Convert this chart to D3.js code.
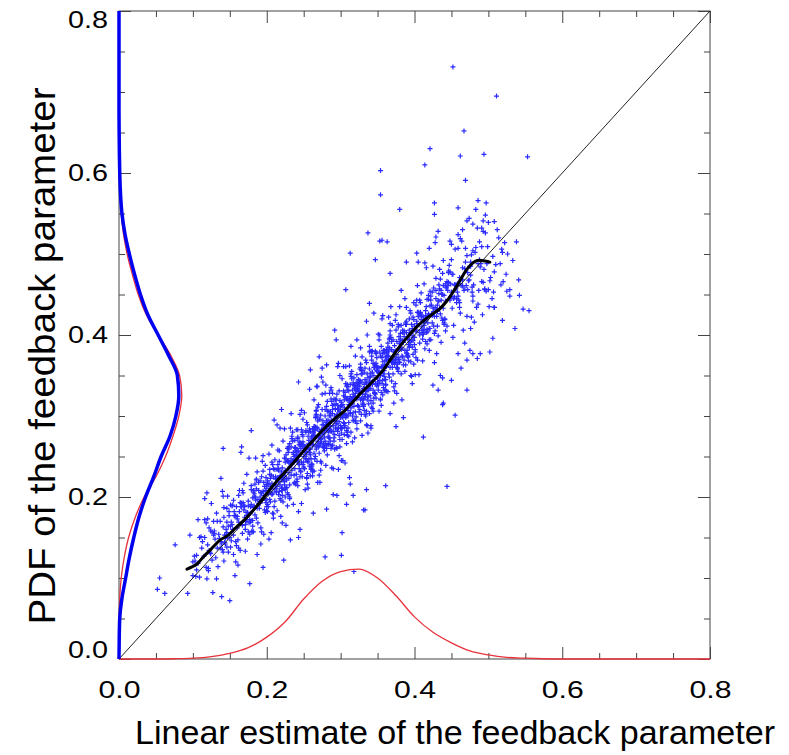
<!DOCTYPE html>
<html>
<head>
<meta charset="utf-8">
<script src="https://cdn.jsdelivr.net/npm/d3@7"></script>
<style>
  body { margin: 0; background: #fff; }
  text { font-family: "Liberation Sans", Arial, Helvetica, sans-serif; fill: #000; }
</style>
</head>
<body>
<svg id="chart"></svg>
<script>
const width = 789, height = 755
const margin = {top: 11, right: 79, bottom: 96, left: 119}

// tick values
const majorTicks = [0, 0.2, 0.4, 0.6, 0.8]
const minorTicks = [0.05, 0.1, 0.15, 0.25, 0.3, 0.35, 0.45, 0.5, 0.55, 0.65, 0.7, 0.75]

// grid on which the three PDFs were read
const pdfGrid = [0, 0.025, 0.05, 0.075, 0.1, 0.125, 0.15, 0.175, 0.2, 0.225, 0.25, 0.275, 0.3, 0.325,
  0.35, 0.375, 0.4, 0.425, 0.45, 0.475, 0.5, 0.525, 0.55, 0.575, 0.6, 0.625, 0.65, 0.675, 0.7, 0.725,
  0.75, 0.775, 0.8]
// PDF of the linear estimate (drawn along the bottom)
const xPdfRed = [0, 0, 0, 0.0003, 0.001, 0.003, 0.007, 0.014, 0.027, 0.046, 0.074, 0.096, 0.108, 0.111,
  0.100, 0.078, 0.052, 0.033, 0.020, 0.010, 0.005, 0.002, 0.001, 0.0003, 0, 0, 0, 0, 0, 0, 0, 0, 0]
// PDFs of the feedback parameter (drawn along the left side)
const yPdfBlue = [0, 0.0003, 0.001, 0.004, 0.009, 0.014, 0.020, 0.027, 0.036, 0.047, 0.057, 0.069, 0.077,
  0.081, 0.079, 0.067, 0.053, 0.039, 0.029, 0.021, 0.014, 0.008, 0.004, 0.002, 0.001, 0.0005, 0.0002,
  0, 0, 0, 0, 0, 0]
const yPdfRed = [0, 0, 0.0003, 0.001, 0.003, 0.007, 0.013, 0.022, 0.034, 0.050, 0.063, 0.073, 0.081,
  0.085, 0.082, 0.070, 0.053, 0.037, 0.026, 0.018, 0.011, 0.006, 0.003, 0.0015, 0.0005, 0.0002, 0,
  0, 0, 0, 0, 0, 0]

// running mean of the cloud
const meanCurve = [[0.092, 0.111], [0.105, 0.117], [0.114, 0.126], [0.125, 0.136], [0.137, 0.147],
  [0.148, 0.153], [0.159, 0.163], [0.170, 0.172], [0.182, 0.184], [0.193, 0.196], [0.204, 0.209],
  [0.215, 0.221], [0.227, 0.233], [0.238, 0.244], [0.249, 0.256], [0.261, 0.268], [0.272, 0.279],
  [0.284, 0.290], [0.295, 0.299], [0.306, 0.307], [0.317, 0.318], [0.326, 0.327], [0.335, 0.335],
  [0.346, 0.345], [0.358, 0.357], [0.369, 0.372], [0.380, 0.386], [0.391, 0.398], [0.403, 0.410],
  [0.414, 0.419], [0.426, 0.427], [0.435, 0.433], [0.443, 0.441], [0.450, 0.450], [0.457, 0.460],
  [0.464, 0.471], [0.470, 0.480], [0.479, 0.489], [0.485, 0.492], [0.491, 0.492], [0.497, 0.491],
  [0.502, 0.490]]

const identityLine = [[0, 0], [0.8, 0.8]]

// scatter, in thousandths: [linear estimate, feedback parameter]
const cloudPoints = [
  [100,120],[113,145],[105,110],[118,168],[109,101],[102,127],[115,127],[107,172],[119,99],[111,151],[104,102],[116,198],
  [130,148],[123,132],[137,170],[126,122],[120,173],[134,114],[128,153],[139,142],[122,162],[132,99],[125,192],[136,149],
  [129,158],[121,109],[138,223],[127,82],[133,170],[124,130],
  [145,153],[156,177],[141,132],[151,190],[159,140],[147,201],[153,166],[143,144],[149,177],[155,129],[140,207],[158,120],
  [146,169],[152,146],[142,187],[157,103],[148,164],[154,190],[144,149],[150,72],[158,177],[146,156],[151,138],[142,175],[155,153],
  [178,188],[166,188],[171,166],[162,202],[175,157],[169,184],[160,162],[173,228],[164,134],[179,209],[167,155],[176,248],
  [161,116],[170,188],[174,181],[163,208],[177,154],[168,193],[172,170],[165,255],[160,173],[173,177],[165,193],[178,169],
  [169,217],[162,137],[175,195],[167,165],[179,214],[171,133],
  [190,194],[183,200],[197,184],[186,221],[180,157],[194,244],[188,197],[199,196],[182,206],[192,162],[185,248],[196,154],
  [189,208],[181,171],[198,239],[187,129],[193,205],[184,216],[191,192],[195,113],[185,200],[196,202],[181,164],[191,220],
  [199,193],[187,231],[193,157],[183,204],[189,192],[195,251],[180,158],[198,208],[186,222],[192,142],[182,208],
  [205,210],[216,233],[201,191],[211,246],[219,196],[207,217],[213,210],[203,253],[209,174],[215,240],[200,183],[218,285],
  [206,156],[212,225],[202,204],[217,257],[208,180],[214,234],[204,197],[210,295],[218,226],[206,205],[211,234],[202,188],
  [215,258],[209,179],[200,215],[213,206],[204,234],[219,176],[207,264],[216,219],[201,220],[210,188],[214,289],[203,148],
  [217,244],[208,204],[212,223],[205,194],
  [220,221],[233,247],[225,209],[238,270],[229,203],[222,269],[235,241],[227,221],[239,260],[231,198],[224,284],[236,191],
  [228,244],[221,208],[234,272],[226,165],[237,246],[230,259],[223,221],[232,147],[230,242],[223,226],[237,217],[226,252],
  [220,211],[234,275],[228,189],[239,257],[222,222],[232,285],[225,200],[236,243],[229,262],[221,168],[238,261],[227,212],
  [233,303],[224,219],[231,200],[235,280],[225,230],[236,253],[221,211],[231,266],[239,216],
  [250,258],[243,242],[257,280],[246,232],[240,283],[254,224],[248,263],[259,252],[242,272],[252,209],[245,302],[256,259],
  [249,268],[241,219],[258,333],[247,192],[253,280],[244,240],[251,262],[255,244],[258,259],[246,260],[251,235],[242,274],
  [255,229],[249,296],[240,246],[253,247],[244,265],[259,226],[247,307],[256,211],[241,257],[250,237],[254,292],[243,182],
  [257,266],[248,277],[252,250],[245,160],[240,252],[253,256],[245,225],[258,284],[249,240],[242,283],[255,216],[247,265],
  [259,259],[251,304],
  [265,276],[276,278],[261,240],[271,296],[279,269],[267,307],[273,233],[263,280],[269,268],[275,327],[260,234],[278,284],
  [266,298],[272,218],[262,284],[277,261],[268,337],[274,268],[264,232],[270,314],[270,274],[263,279],[277,266],[266,300],
  [260,236],[274,283],[268,264],[279,328],[262,226],[272,296],[265,247],[276,342],[269,218],[261,273],[278,279],[267,306],
  [273,244],[264,283],[271,263],[275,359],[260,267],[273,271],[265,287],[278,263],[269,311],[262,231],[275,289],[267,259],
  [279,308],[271,227],[264,320],[276,278],[268,286],[261,238],[274,348],
  [285,284],[296,308],[281,263],[291,321],[299,271],[287,332],[293,297],[283,275],[289,308],[295,260],[280,338],[298,251],
  [286,300],[292,277],[282,318],[297,234],[288,295],[294,321],[284,280],[290,203],[298,308],[286,287],[291,269],[282,306],
  [295,284],[289,328],[280,239],[293,309],[284,282],[299,350],[287,260],[296,301],[281,312],[290,235],[294,315],[283,266],
  [297,365],[288,281],[292,259],[285,328],[280,283],[293,308],[285,273],[298,331],[289,264],[282,290],[295,290],[287,335],
  [299,262],[291,314],[284,265],[296,361],[288,236],[281,292],[294,294],
  [318,323],[306,302],[311,331],[302,285],[315,355],[309,276],[300,312],[313,303],[304,331],[319,273],[307,361],[316,316],
  [301,317],[310,285],[314,386],[303,245],[317,341],[308,301],[312,320],[305,291],[300,298],[313,324],[305,286],[318,347],
  [309,280],[302,346],[315,318],[307,298],[319,337],[311,275],[304,361],[316,268],[308,321],[301,285],[314,349],[306,242],
  [317,323],[310,336],[303,298],[312,224],[310,319],[303,303],[317,294],[306,329],[300,288],[314,352],[308,266],[319,334],
  [302,299],[312,362],[305,277],[316,320],[309,339],[301,245],[318,338],
  [330,332],[323,337],[337,324],[326,358],[320,294],[334,341],[328,322],[339,386],[322,284],[332,354],[325,305],[336,400],
  [329,276],[321,331],[338,337],[327,364],[333,302],[324,341],[331,321],[335,417],[325,330],[336,332],[321,341],[331,314],
  [339,379],[327,294],[333,345],[323,313],[329,356],[335,289],[320,374],[338,338],[326,342],[332,307],[322,394],[337,279],
  [328,352],[334,327],[324,332],[330,316],[338,336],[326,337],[331,312],[322,351],[335,306],[329,373],[320,323],[333,324],
  [324,342],[339,303],[327,384],[336,288],[321,334],[330,314],[334,369],
  [340,349],[353,353],[345,322],[358,381],[349,337],[342,380],[355,313],[347,362],[359,356],[351,401],[344,316],[356,360],
  [348,378],[341,285],[354,374],[346,328],[357,424],[350,342],[343,309],[352,394],[358,360],[346,360],[351,338],[342,374],
  [355,329],[349,356],[340,334],[353,400],[344,306],[359,381],[347,327],[356,420],[341,288],[350,360],[354,353],[343,380],
  [357,326],[348,365],[352,342],[345,427],[350,355],[343,339],[357,377],[346,329],[340,380],[354,321],[348,360],[359,349],
  [342,369],[352,306],
  [370,368],[363,374],[377,358],[366,395],[360,331],[374,418],[368,371],[379,370],[362,380],[372,336],[365,422],[376,328],
  [369,382],[361,345],[378,413],[367,303],[373,379],[364,390],[371,366],[375,287],[365,374],[376,376],[361,338],[371,394],
  [379,367],[367,405],[373,331],[363,378],[369,366],[375,425],[360,332],[378,382],[366,396],[372,316],[362,382],[377,359],
  [368,435],[374,366],[364,330],[370,412],[360,362],[373,387],[365,352],[378,410],[369,343],[362,369],[375,369],[367,414],
  [385,391],[396,393],[381,402],[391,375],[399,440],[387,355],[393,406],[383,374],[389,417],[395,350],[380,435],[398,399],
  [386,403],[392,368],[382,455],[397,340],[388,413],[394,388],[384,393],[390,377],[398,397],[386,398],[391,373],[382,412],
  [395,367],[389,434],[380,384],[393,385],[384,403],[399,364],[387,445],[396,349],[381,395],[390,375],[394,430],[383,320],
  [397,404],[388,415],[392,388],[385,298],[380,390],[393,394],[385,363],[398,422],[389,378],
  [418,423],[406,423],[411,401],[402,437],[415,392],[409,419],[400,397],[413,463],[404,369],[419,444],[407,390],[416,483],
  [401,351],[410,423],[414,416],[403,443],[417,389],[408,428],[412,405],[405,490],[400,408],[413,412],[405,428],[418,404],
  [409,452],[402,372],[415,430],[407,400],[419,449],[411,368],[404,461],[416,419],[408,427],[401,379],[414,489],[406,351],
  [417,444],[410,406],[403,414],[412,401],
  [430,431],[423,437],[437,421],[426,458],[420,394],[434,481],[428,434],[439,433],[422,443],[432,399],[425,485],[436,391],
  [429,445],[421,408],[438,476],[427,366],[433,442],[424,453],[431,429],[435,350],[438,450],[426,429],[431,411],[422,448],
  [435,426],[429,470],[420,381],[433,451],[424,424],[439,492],[427,402],[436,443],[421,454],[430,377],[434,457],
  [445,455],[456,457],[441,419],[451,475],[459,448],[447,486],[453,412],[443,459],[449,447],[455,506],[440,413],[458,463],
  [446,477],[452,397],[442,463],[457,440],[448,516],[454,447],[444,411],[450,493],[450,453],[443,458],[457,445],[446,479],
  [440,415],[454,462],[448,443],[459,507],[442,405],[452,475],
  [460,463],[473,467],[465,483],[478,459],[469,507],[462,427],[475,485],[467,455],[479,504],[471,423],[464,516],[476,474],
  [468,482],[461,434],[474,544],[466,406],[477,499],[470,461],[463,469],[472,456],[465,461],[476,485],[461,440],[471,498],
  [479,448],
  [498,488],[486,488],[491,466],[482,502],[495,457],[489,484],[480,462],[493,528],[484,434],[499,509],[487,455],[496,548],
  [481,416],[490,488],[494,481],[483,508],[497,454],[488,493],
  [510,487],[503,471],[517,462],[506,497],[500,456],[514,520],[508,434],[519,502],[502,467],[512,530],[505,445],[516,488],
  [520,466],[533,492],[525,454],[538,515],[529,448],[522,514]
]
// the tight core of the cloud, where the markers merge
const denseCore = [
  [103,121],[112,137],[107,118],[116,150],[100,103],[109,150],[118,113],[105,128],
  [135,154],[122,134],[129,155],[138,145],[126,157],[131,125],[120,141],[133,137],[124,158],[137,137],[128,170],[121,112],
  [143,153],[152,169],[147,150],[156,182],[140,135],[149,182],[158,145],[145,160],[154,160],[141,163],[150,150],[159,188],
  [146,138],[155,196],[142,121],[151,164],[157,177],[144,142],[153,189],[148,132],
  [175,189],[162,169],[169,190],[178,180],[166,192],[171,160],[160,176],[173,172],[164,193],[177,172],[168,205],[161,147],
  [179,191],[170,175],[165,188],[174,148],[163,182],[176,168],[167,208],[172,181],
  [183,189],[192,205],[187,186],[196,218],[180,171],[189,218],[198,181],[185,196],[194,196],[181,199],[190,186],[199,224],
  [186,174],[195,232],[182,157],[191,200],[197,213],[184,178],[193,225],[188,168],[195,207],[182,187],[189,208],[198,198],[186,210],
  [215,224],[202,204],[209,225],[218,215],[206,227],[211,195],[200,211],[213,207],[204,228],[217,207],[208,240],[201,182],
  [219,226],[210,210],[205,223],[214,183],[203,217],[216,203],[207,243],[212,216],[203,206],[212,222],[207,203],[216,235],
  [200,188],[209,235],[218,198],[205,213],[214,213],[201,216],
  [223,226],[232,242],[227,223],[236,255],[220,208],[229,255],[238,218],[225,233],[234,233],[221,236],[230,223],[239,261],
  [226,211],[235,269],[222,194],[231,237],[237,250],[224,215],[233,262],[228,205],[235,244],[222,224],[229,245],[238,235],
  [226,247],[231,215],[220,231],[233,227],[224,248],[237,227],[228,260],[221,202],[239,246],[230,230],[225,243],
  [255,264],[242,244],[249,265],[258,255],[246,267],[251,235],[240,251],[253,247],[244,268],[257,247],[248,280],[241,222],
  [259,266],[250,250],[245,263],[254,223],[243,257],[256,243],[247,283],[252,256],[243,246],[252,262],[247,243],[256,275],
  [240,228],[249,275],[258,238],[245,253],[254,253],[241,256],[250,243],[259,281],[246,231],[255,289],[242,214],[251,257],
  [257,270],[244,235],[253,282],[248,225],
  [263,265],[272,281],[267,262],[276,294],[260,247],[269,294],[278,257],[265,272],[274,272],[261,275],[270,262],[279,300],
  [266,250],[275,308],[262,233],[271,276],[277,289],[264,254],[273,301],[268,244],[275,283],[262,263],[269,284],[278,274],
  [266,286],[271,254],[260,270],[273,266],[264,287],[277,266],[268,299],[261,241],[279,285],[270,269],[265,282],[274,242],
  [263,276],[276,262],[267,302],[272,275],
  [295,302],[282,282],[289,303],[298,293],[286,305],[291,273],[280,289],[293,285],[284,306],[297,285],[288,318],[281,260],
  [299,304],[290,288],[285,301],[294,261],[283,295],[296,281],[287,321],[292,294],[283,284],[292,300],[287,281],[296,313],
  [280,266],[289,313],[298,276],[285,291],[294,291],[281,294],[290,281],[299,319],[286,269],[295,327],[282,252],[291,295],
  [297,308],[284,273],[293,320],[288,263],
  [303,303],[312,319],[307,300],[316,332],[300,285],[309,332],[318,295],[305,310],[314,310],[301,313],[310,300],[319,338],
  [306,288],[315,346],[302,271],[311,314],[317,327],[304,292],[313,339],[308,282],[315,321],[302,301],[309,322],[318,312],
  [306,324],[311,292],[300,308],[313,304],[304,325],[317,304],[308,337],[301,279],[319,323],[310,307],[305,320],[314,280],
  [303,314],[316,300],[307,340],[312,313],
  [335,341],[322,321],[329,342],[338,332],[326,344],[331,312],[320,328],[333,324],[324,345],[337,324],[328,357],[321,299],
  [339,343],[330,327],[325,340],[334,300],[323,334],[336,320],[327,360],[332,333],[323,323],[332,339],[327,320],[336,352],
  [320,305],[329,352],[338,315],[325,330],[334,330],[321,333],[330,320],[339,358],[326,308],[335,366],[322,291],[331,334],
  [337,347],[324,312],[333,359],[328,302],
  [343,343],[352,359],[347,340],[356,372],[340,325],[349,372],[358,335],[345,350],[354,350],[341,353],[350,340],[359,378],
  [346,328],[355,386],[342,311],[351,354],[357,367],[344,332],[353,379],[348,322],[355,361],[342,341],[349,362],[358,352],
  [346,364],[351,332],[340,348],[353,344],[344,365],[357,344],[348,377],[341,319],[359,363],[350,347],[345,360],[354,320],
  [343,354],[356,340],[347,380],[352,353],
  [375,381],[362,361],[369,382],[378,372],[366,384],[371,352],[360,368],[373,364],[364,385],[377,364],[368,397],[361,339],
  [379,383],[370,367],[365,380],[374,340],[363,374],[376,360],[367,400],[372,373],[363,363],[372,379],[367,360],[376,392],
  [360,345],[369,392],[378,355],[365,370],[374,370],[361,373],[370,360],[379,398],[366,348],[375,406],[362,331],
  [383,384],[392,400],[387,381],[396,413],[380,366],[389,413],[398,376],[385,391],[394,391],[381,394],[390,381],[399,419],
  [386,369],[395,427],[382,352],[391,395],[397,408],[384,373],[393,420],[388,363],[395,402],[382,382],[389,403],[398,393],
  [386,405],[391,373],[380,389],[393,385],[384,406],[397,385],
  [415,424],[402,404],[409,425],[418,415],[406,427],[411,395],[400,411],[413,407],[404,428],[417,407],[408,440],[401,382],
  [419,426],[410,410],[405,423],[414,383],[403,417],[416,403],[407,443],[412,416],[403,406],[412,422],[407,403],[416,435],[400,388],
  [423,426],[432,442],[427,423],[436,455],[420,408],[429,455],[438,418],[425,433],[434,433],[421,436],[430,423],[439,461],
  [426,411],[435,469],[422,394],[431,437],[437,450],[424,415],[433,462],[428,405],
  [455,462],[442,442],[449,463],[458,453],[446,465],[451,433],[440,449],[453,445],[444,466],[457,445],[448,478],[441,420],
  [459,464],[450,448],[445,461],
  [463,461],[472,477],[467,458],[476,490],[460,443],[469,490],[478,453],[465,468],[474,468],[461,471]
]
const strayPoints = [
  [452,731],[511,695],[467,652],[421,630],[462,621],[494,623],[553,620],[414,610],[469,591],[354,603],[354,573],[380,555],
  [427,563],[427,549],[459,557],[486,566],[497,563],[483,555],[471,541],[493,541],[500,539],[508,540],[479,537],[485,532],
  [491,532],[496,526],[465,530],[459,524],[462,519],[432,528],[429,521],[428,514],[353,516],[363,515],[420,507],[450,512],
  [488,515],[491,509],[518,506],[526,500],[508,478],[524,475],[541,468],[529,456],[542,449],[507,453],[495,456],[493,465],
  [479,442],[486,438],[501,435],[508,434],[547,432],[555,430],[492,425],[477,422],[519,418],[536,408],[476,408],[506,396],
  [468,390],[475,381],[502,379],[479,377],[489,377],[485,371],[471,369],[459,377],[463,359],[450,344],[438,347],[432,332],
  [438,314],[425,338],[361,214],[333,184],[302,156],[301,128],[279,126],[243,150],[223,122],[318,108],[177,93],[139,77],
  [93,81],[76,141],[55,100],[52,86],[62,81],[119,205],[141,201],[116,172],[132,180],[96,153],[146,186],[263,180],
  [281,185],[308,191],[295,202],[317,202],[335,209],[313,216],[444,213],[412,274],[337,526],[313,501],[356,517],
  [307,456],[292,406],[294,394],[271,373],[281,363],[259,357],[347,493],[389,490],[403,501],[339,439],[367,476],
  [439,316],[471,332],[455,301],[141,260],[179,282],[166,262],[220,308],[243,342],[268,336],[331,184]
]

const svg = d3.select('#chart')
  .attr('width', width)
  .attr('height', height)

const x = d3.scaleLinear().domain([0, 0.8]).range([margin.left, width - margin.right])
const y = d3.scaleLinear().domain([0, 0.8]).range([height - margin.bottom, margin.top])

const axisColor = '#444'
const frameBottom = y(0), frameLeft = x(0), frameTop = y(0.8), frameRight = x(0.8)

// frame
svg.append('rect')
  .attr('x', frameLeft)
  .attr('y', frameTop)
  .attr('width', frameRight - frameLeft)
  .attr('height', frameBottom - frameTop)
  .attr('fill', 'none')
  .attr('stroke', axisColor)
  .attr('stroke-width', 1)

function addAxis(axis, transform, withLabels) {
  const g = svg.append('g')
    .attr('transform', transform)
    .call(axis)
  g.select('.domain').remove()
  g.selectAll('.tick line').attr('stroke', axisColor)
  if (!withLabels) g.selectAll('.tick text').remove()
  return g
}

const fmt = d3.format('.1f')

// minor ticks on all four sides, pointing inward
addAxis(d3.axisBottom(x).tickValues(minorTicks).tickSizeInner(-6).tickSizeOuter(0), `translate(0,${frameBottom})`, false)
addAxis(d3.axisTop(x).tickValues(minorTicks).tickSizeInner(-6).tickSizeOuter(0), `translate(0,${frameTop})`, false)
addAxis(d3.axisLeft(y).tickValues(minorTicks).tickSizeInner(-6).tickSizeOuter(0), `translate(${frameLeft},0)`, false)
addAxis(d3.axisRight(y).tickValues(minorTicks).tickSizeInner(-6).tickSizeOuter(0), `translate(${frameRight},0)`, false)

// major ticks
const xLabels = addAxis(d3.axisBottom(x).tickValues(majorTicks).tickSizeInner(-12).tickSizeOuter(0)
  .tickPadding(23).tickFormat(fmt), `translate(0,${frameBottom})`, true)
const yLabels = addAxis(d3.axisLeft(y).tickValues(majorTicks).tickSizeInner(-12).tickSizeOuter(0)
  .tickPadding(11).tickFormat(fmt), `translate(${frameLeft},0)`, true)
addAxis(d3.axisTop(x).tickValues(majorTicks).tickSizeInner(-12).tickSizeOuter(0), `translate(0,${frameTop})`, false)
addAxis(d3.axisRight(y).tickValues(majorTicks).tickSizeInner(-12).tickSizeOuter(0), `translate(${frameRight},0)`, false)

// the labels are set in a wide face; stretch them to that width
xLabels.attr('font-size', null).attr('font-family', null)
yLabels.attr('font-size', null).attr('font-family', null)
xLabels.selectAll('.tick text')
  .attr('font-size', 23)
  .attr('textLength', 42)
  .attr('lengthAdjust', 'spacingAndGlyphs')
yLabels.selectAll('.tick text')
  .attr('font-size', 23)
  .attr('textLength', 40)
  .attr('lengthAdjust', 'spacingAndGlyphs')
  .attr('dy', d => d === 0.8 ? '0.72em' : d === 0 ? '-0.08em' : '0.32em')

// axis titles
svg.append('text')
  .attr('x', 455)
  .attr('y', 744)
  .attr('text-anchor', 'middle')
  .attr('font-size', 34)
  .attr('textLength', 640)
  .attr('lengthAdjust', 'spacingAndGlyphs')
  .text('Linear estimate of the feedback parameter')

svg.append('text')
  .attr('transform', 'translate(55,356) rotate(-90)')
  .attr('text-anchor', 'middle')
  .attr('font-size', 37)
  .attr('textLength', 537)
  .attr('lengthAdjust', 'spacingAndGlyphs')
  .text('PDF of the feedback parameter')

// scatter
const plot = svg.append('g')
const allPoints = cloudPoints.concat(denseCore, strayPoints)
plot.append('g')
  .selectAll('path')
  .data(allPoints)
  .join('path')
  .attr('transform', d => `translate(${x(d[0] / 1000)},${y(d[1] / 1000)})`)
  .attr('d', 'M-2.5,0H2.5M0,-2.5V2.5')
  .attr('stroke', '#2a2aff')
  .attr('stroke-width', 1.2)
  .attr('fill', 'none')

// 1:1 line
plot.append('path')
  .datum(identityLine)
  .attr('d', d3.line().x(d => x(d[0])).y(d => y(d[1])))
  .attr('stroke', '#222')
  .attr('stroke-width', 1)
  .attr('fill', 'none')

// running mean
plot.append('path')
  .datum(meanCurve)
  .attr('d', d3.line().x(d => x(d[0])).y(d => y(d[1])).curve(d3.curveCatmullRom))
  .attr('stroke', '#000')
  .attr('stroke-width', 3)
  .attr('fill', 'none')
  .attr('stroke-linecap', 'round')

// PDFs
const bottomPdf = d3.line()
  .x((d, i) => x(pdfGrid[i]))
  .y(d => y(d))
  .curve(d3.curveMonotoneX)
const sidePdf = d3.line()
  .x(d => x(d))
  .y((d, i) => y(pdfGrid[i]))
  .curve(d3.curveMonotoneY)

plot.append('path')
  .datum(xPdfRed)
  .attr('d', bottomPdf)
  .attr('stroke', '#e8323c')
  .attr('stroke-width', 1.3)
  .attr('fill', 'none')

plot.append('path')
  .datum(yPdfRed)
  .attr('d', sidePdf)
  .attr('stroke', '#e8323c')
  .attr('stroke-width', 1.3)
  .attr('fill', 'none')

plot.append('path')
  .datum(yPdfBlue)
  .attr('d', sidePdf)
  .attr('stroke', '#0000f0')
  .attr('stroke-width', 3.5)
  .attr('fill', 'none')
</script>
</body>
</html>
